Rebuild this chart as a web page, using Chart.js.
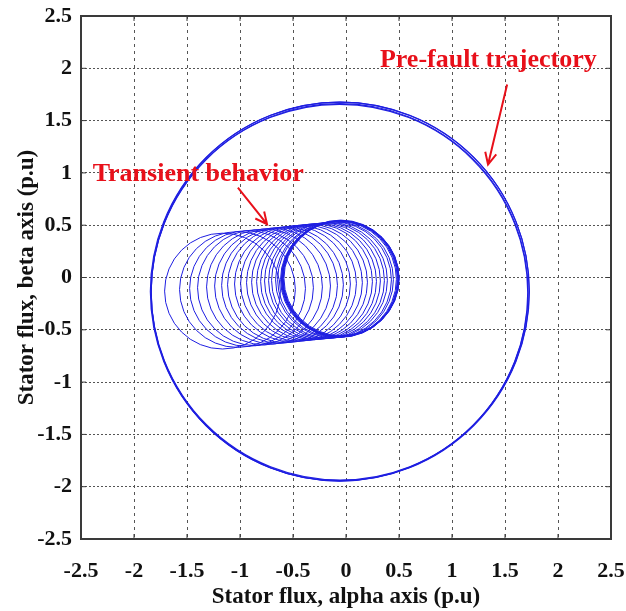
<!DOCTYPE html>
<html>
<head>
<meta charset="utf-8">
<script src="https://cdn.jsdelivr.net/npm/chart.js@4.4.0/dist/chart.umd.min.js"></script>
<style>
    body { margin: 0; background: #fff; }
    #wrap { width: 626px; height: 611px; }
</style>
</head>
<body>
<div id="wrap"><canvas id="chart" width="626" height="611"></canvas></div>
<script>
// Valores

// Etiquetas de los ejes (iguales en x e y)
const tickValues = [-2.5, -2, -1.5, -1, -0.5, 0, 0.5, 1, 1.5, 2, 2.5];
const tickLabels = ['-2.5', '-2', '-1.5', '-1', '-0.5', '0', '0.5', '1', '1.5', '2', '2.5'];

// Trayectoria pre-falla: varias vueltas casi superpuestas (centro y radio en p.u)
const ringX = [-0.06, -0.055, -0.062, -0.058];
const ringY = [-0.14, -0.13, -0.145, -0.135];
const ringR = [1.79, 1.795, 1.788, 1.80];

// Comportamiento transitorio: centro de cada vuelta y radio (p.u)
const transX = [-1.165, -1.024, -0.929, -0.854, -0.769, -0.693, -0.627, -0.571, -0.505, -0.448,
                -0.392, -0.344, -0.297, -0.259, -0.222, -0.184, -0.156, -0.118, -0.099, -0.071,
                -0.062, -0.052, -0.046, -0.058, -0.049, -0.044, -0.055, -0.050];
const transY = [-0.130, -0.115, -0.105, -0.098, -0.090, -0.082, -0.075, -0.070, -0.062, -0.056,
                -0.050, -0.045, -0.040, -0.037, -0.033, -0.030, -0.027, -0.023, -0.020, -0.017,
                -0.015, -0.012, -0.010, -0.014, -0.011, -0.008, -0.013, -0.010];
const transR = [0.55, 0.55, 0.55, 0.55, 0.55, 0.55, 0.55, 0.55, 0.55, 0.55,
                0.55, 0.55, 0.55, 0.55, 0.55, 0.55, 0.55, 0.55, 0.55, 0.55,
                0.55, 0.55, 0.55, 0.555, 0.55, 0.545, 0.55, 0.555];

// Anotaciones (texto y flecha en unidades de datos)
const notes = [
    { text: 'Transient behavior', x: -2.39, y: 0.92, from: [-1.02, 0.86], to: [-0.745, 0.51] },
    { text: 'Pre-fault trajectory', x: 0.32, y: 2.01, from: [1.52, 1.845], to: [1.34, 1.08] }
];

const blue = 'rgb(30, 30, 225)';
const red = 'rgb(232, 16, 26)';
const serif = '"Liberation Serif", "Times New Roman", serif';

function toPoints(xs, ys, rs) {
    return xs.map((x, i) => ({ x: x, y: ys[i], r: rs[i] }));
}

// radio en píxeles a partir del radio en p.u (promedio de las dos escalas)
function pixelRadius(ctx) {
    const p = ctx.raw;
    const sx = ctx.chart.scales.x;
    const sy = ctx.chart.scales.y;
    if (!p || !sx || !sy) return 0;
    const kx = Math.abs(sx.getPixelForValue(1) - sx.getPixelForValue(0));
    const ky = Math.abs(sy.getPixelForValue(1) - sy.getPixelForValue(0));
    return p.r * (kx + ky) / 2;
}

function tickText(v) {
    const i = tickValues.indexOf(Math.round(v * 2) / 2);
    return i >= 0 ? tickLabels[i] : '';
}

// Marco completo y marcas hacia adentro, estilo MATLAB
const boxPlugin = {
    id: 'box',
    afterDatasetsDraw(chart) {
        const { ctx, chartArea: a, scales } = chart;
        ctx.save();
        ctx.strokeStyle = '#3a3a3a';
        ctx.lineWidth = 1;
        ctx.beginPath();
        tickValues.forEach(v => {
            const px = scales.x.getPixelForValue(v);
            const py = scales.y.getPixelForValue(v);
            ctx.moveTo(px, a.bottom); ctx.lineTo(px, a.bottom - 5);
            ctx.moveTo(px, a.top); ctx.lineTo(px, a.top + 5);
            ctx.moveTo(a.left, py); ctx.lineTo(a.left + 5, py);
            ctx.moveTo(a.right, py); ctx.lineTo(a.right - 5, py);
        });
        ctx.stroke();
        ctx.lineWidth = 2;
        ctx.strokeRect(a.left, a.top, a.right - a.left, a.bottom - a.top);
        ctx.restore();
    }
};

const notesPlugin = {
    id: 'notes',
    afterDraw(chart) {
        const { ctx, scales } = chart;
        const X = v => scales.x.getPixelForValue(v);
        const Y = v => scales.y.getPixelForValue(v);
        ctx.save();
        notes.forEach(n => {
            ctx.fillStyle = red;
            ctx.font = 'bold 26px ' + serif;
            ctx.textBaseline = 'alphabetic';
            ctx.textAlign = 'left';
            ctx.fillText(n.text, X(n.x), Y(n.y));

            const x1 = X(n.from[0]), y1 = Y(n.from[1]);
            const x2 = X(n.to[0]), y2 = Y(n.to[1]);
            const ang = Math.atan2(y2 - y1, x2 - x1);
            ctx.strokeStyle = red;
            ctx.lineWidth = 2;
            ctx.beginPath();
            ctx.moveTo(x1, y1);
            ctx.lineTo(x2, y2);
            ctx.moveTo(x2 - 13 * Math.cos(ang - 0.45), y2 - 13 * Math.sin(ang - 0.45));
            ctx.lineTo(x2, y2);
            ctx.lineTo(x2 - 13 * Math.cos(ang + 0.45), y2 - 13 * Math.sin(ang + 0.45));
            ctx.stroke();
        });
        ctx.restore();
    }
};

const axisCommon = {
    type: 'linear',
    min: -2.5,
    max: 2.5,
    border: { display: false, dash: [2, 2] },
    ticks: {
        stepSize: 0.5,
        color: '#111',
        font: { family: serif, size: 22, weight: 'bold' },
        callback: tickText
    }
};

new Chart(document.getElementById('chart'), {
    type: 'scatter',
    data: {
        datasets: [
            {
                label: 'Pre-fault',
                data: toPoints(ringX, ringY, ringR),
                pointRadius: pixelRadius,
                pointBackgroundColor: 'rgba(0,0,0,0)',
                pointBorderColor: blue,
                pointBorderWidth: 1.1
            },
            {
                label: 'Transient',
                data: toPoints(transX, transY, transR),
                pointRadius: pixelRadius,
                pointBackgroundColor: 'rgba(0,0,0,0)',
                pointBorderColor: blue,
                pointBorderWidth: 1
            }
        ]
    },
    options: {
        responsive: false,
        animation: false,
        events: [],
        layout: { padding: { top: 16, right: 15, left: 0, bottom: 0 } },
        plugins: {
            legend: { display: false },
            tooltip: { enabled: false }
        },
        scales: {
            x: {
                ...axisCommon,
                position: 'bottom',
                border: { display: false, dash: [3, 4] },
                grid: { color: '#555', lineWidth: 1, drawTicks: false },
                ticks: { ...axisCommon.ticks, padding: 19, maxRotation: 0 },
                title: {
                    display: true,
                    text: 'Stator flux, alpha axis (p.u)',
                    color: '#111',
                    font: { family: serif, size: 23, weight: 'bold' },
                    padding: { top: 0, bottom: 0 }
                },
                afterFit: s => {
                    s.height = 72;
                    s.paddingLeft = 0;
                    s.paddingRight = 0;
                }
            },
            y: {
                ...axisCommon,
                position: 'left',
                grid: { color: '#555', lineWidth: 1, drawTicks: false },
                ticks: { ...axisCommon.ticks, padding: 9 },
                title: {
                    display: true,
                    text: 'Stator flux, beta axis (p.u)',
                    color: '#111',
                    font: { family: serif, size: 23, weight: 'bold' },
                    padding: { top: 13, bottom: 0 }
                },
                afterFit: s => {
                    s.width = 81;
                    s.paddingTop = 0;
                    s.paddingBottom = 0;
                }
            }
        }
    },
    plugins: [boxPlugin, notesPlugin]
});
</script>
</body>
</html>
